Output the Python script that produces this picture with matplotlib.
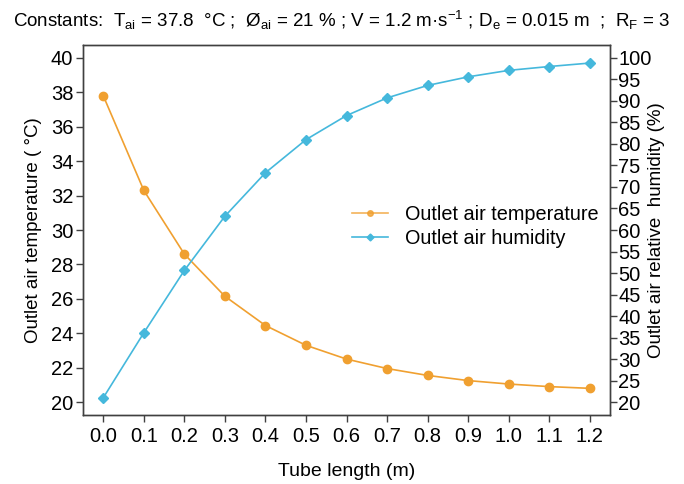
import matplotlib
matplotlib.use("Agg")
import matplotlib.pyplot as plt
from matplotlib.lines import Line2D

plt.rcParams['font.family'] = ['Liberation Sans', 'DejaVu Sans']
plt.rcParams['mathtext.fontset'] = 'custom'
plt.rcParams['mathtext.rm'] = 'Liberation Sans'
plt.rcParams['mathtext.it'] = 'Liberation Sans'

tube_length = [0.0, 0.1, 0.2, 0.3, 0.4, 0.5, 0.6, 0.7, 0.8, 0.9, 1.0, 1.1, 1.2]
outlet_temp = [37.8, 32.3, 28.6, 26.15, 24.45, 23.3, 22.5, 21.95, 21.55, 21.25, 21.05, 20.9, 20.8]
outlet_hum = [21.0, 36.1, 50.6, 63.2, 73.3, 81.0, 86.6, 90.7, 93.6, 95.6, 97.1, 98.0, 98.8]
x_ticks = [0.0, 0.1, 0.2, 0.3, 0.4, 0.5, 0.6, 0.7, 0.8, 0.9, 1.0, 1.1, 1.2]
left_ticks = [20, 22, 24, 26, 28, 30, 32, 34, 36, 38, 40]
right_ticks = [20, 25, 30, 35, 40, 45, 50, 55, 60, 65, 70, 75, 80, 85, 90, 95, 100]

orange = '#F0A030'
blue = '#45B8DC'
spine_c = '#404040'

fig = plt.figure(figsize=(6.84, 4.84), dpi=100)
ax = fig.add_axes([83/684, 1 - 415/484, (610-83)/684, (415-45)/484])
ax2 = ax.twinx()

ax.plot(tube_length, outlet_temp, color=orange, marker='o', markersize=6, lw=1.2)
ax2.plot(tube_length, outlet_hum, color=blue, marker='D', markersize=5.5, lw=1.2)

ax.set_xlim(-0.05, 1.25)
ax.set_ylim(19.25, 40.75)
ax2.set_ylim(17.0, 103.0)
ax.set_xticks(x_ticks)
ax.set_xticklabels([f"{v:.1f}" for v in x_ticks])
ax.set_yticks(left_ticks)
ax2.set_yticks(right_ticks)

for a in (ax, ax2):
    for s in a.spines.values():
        s.set_color(spine_c)
        s.set_linewidth(1.0)
ax.tick_params(axis='both', labelsize=14.5, length=5, width=1, color=spine_c, direction='out')
ax.tick_params(axis='x', pad=4)
ax.tick_params(axis='y', pad=2)
ax2.tick_params(axis='y', labelsize=14.5, length=5, width=1, color=spine_c, direction='out', pad=1)

ax.set_xlabel('Tube length (m)', fontsize=14, labelpad=12)
ax.set_ylabel('Outlet air temperature ( °C)', fontsize=13.5, labelpad=6)
ax2.set_ylabel('Outlet air relative  humidity (%)', fontsize=13.5, labelpad=-3)

fig.text(0.5, 1 - 20/484,
         r'Constants:  T$_{\mathrm{ai}}$ = 37.8  °C ;  Ø$_{\mathrm{ai}}$ = 21 % ; V = 1.2 m·s$^{\mathrm{-1}}$ ; D$_{\mathrm{e}}$ = 0.015 m  ;  R$_{\mathrm{F}}$ = 3',
         ha='center', va='center', fontsize=13.5)

handles = [
    Line2D([], [], color=orange, marker='o', markersize=4, lw=1.2, alpha=0.8),
    Line2D([], [], color=blue, marker='D', markersize=3.5, lw=1.2),
]
ax.legend(handles, ['Outlet air temperature', 'Outlet air humidity'],
          loc='upper left', bbox_to_anchor=((342-83)/527, 1 - (195-45)/370),
          frameon=False, fontsize=14.3, handlelength=1.8, handletextpad=0.85,
          labelspacing=0.25, borderpad=0)

fig.savefig('out.png', dpi=100)
